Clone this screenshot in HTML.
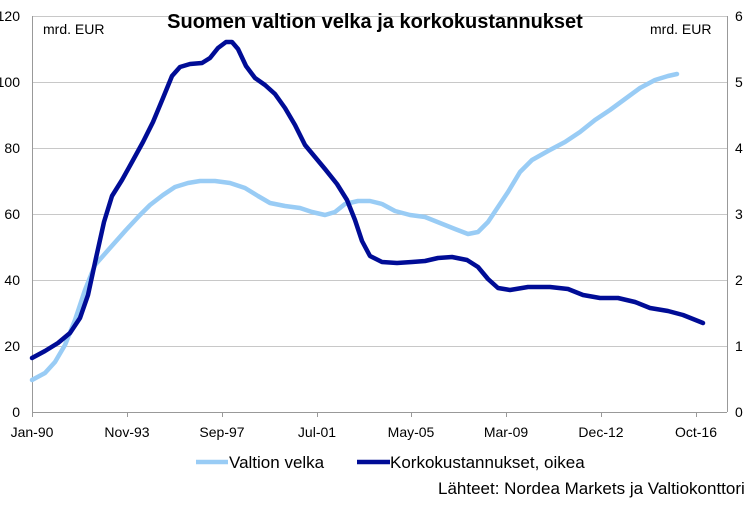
<!DOCTYPE html>
<html><head><meta charset="utf-8"><style>
body{margin:0;background:#fff;}
svg text{font-family:"Liberation Sans",Arial,sans-serif;}
</style></head><body>
<svg width="750" height="500" xmlns="http://www.w3.org/2000/svg">
<rect width="750" height="500" fill="#fff"/>
<g stroke="#c8c8c8" stroke-width="1">
<line x1="32" y1="16.5" x2="727" y2="16.5"/>
<line x1="32" y1="82.5" x2="727" y2="82.5"/>
<line x1="32" y1="148.5" x2="727" y2="148.5"/>
<line x1="32" y1="214.5" x2="727" y2="214.5"/>
<line x1="32" y1="280.5" x2="727" y2="280.5"/>
<line x1="32" y1="346.5" x2="727" y2="346.5"/>
</g>
<g stroke="#999" stroke-width="1">
<line x1="32.5" y1="16" x2="32.5" y2="412"/>
<line x1="727.5" y1="16" x2="727.5" y2="412"/>
<line x1="32" y1="412.5" x2="727" y2="412.5"/>
<line x1="127.5" y1="412" x2="127.5" y2="417"/>
<line x1="222.5" y1="412" x2="222.5" y2="417"/>
<line x1="317.5" y1="412" x2="317.5" y2="417"/>
<line x1="411.5" y1="412" x2="411.5" y2="417"/>
<line x1="506.5" y1="412" x2="506.5" y2="417"/>
<line x1="601.5" y1="412" x2="601.5" y2="417"/>
<line x1="696.5" y1="412" x2="696.5" y2="417"/>
<line x1="32.5" y1="412" x2="32.5" y2="417"/>
</g>
<g font-size="14" fill="#000" text-anchor="end">
<text x="20" y="21">120</text><text x="20" y="87">100</text><text x="20" y="153">80</text>
<text x="20" y="219">60</text><text x="20" y="285">40</text><text x="20" y="351">20</text><text x="20" y="417">0</text>
</g>
<g font-size="14" fill="#000" text-anchor="start">
<text x="735" y="21">6</text><text x="735" y="87">5</text><text x="735" y="153">4</text>
<text x="735" y="219">3</text><text x="735" y="285">2</text><text x="735" y="351">1</text><text x="735" y="417">0</text>
</g>
<g font-size="14" fill="#000" text-anchor="middle">
<text x="32" y="437">Jan-90</text><text x="127" y="437">Nov-93</text><text x="222" y="437">Sep-97</text>
<text x="317" y="437">Jul-01</text><text x="411" y="437">May-05</text><text x="506" y="437">Mar-09</text>
<text x="601" y="437">Dec-12</text><text x="696" y="437">Oct-16</text>
</g>
<text x="43" y="34" font-size="14">mrd. EUR</text>
<text x="650" y="34" font-size="14">mrd. EUR</text>
<text x="375" y="28" font-size="20" font-weight="bold" text-anchor="middle">Suomen valtion velka ja korkokustannukset</text>
<polyline fill="none" stroke="#99ccf5" stroke-width="4.5" stroke-linejoin="round" stroke-linecap="round" points="32,380 45,373 55,362 65,345 75,320 85,290 95,265 110,248 126,230 140,215 150,205 163,195 175,187 188,183 200,181 215,181 230,183 245,188 258,196 270,203 285,206 300,208 312,212 325,215 335,212 345,204 358,201 370,201 382,204 395,211 410,215 425,217 440,223 455,229 468,234 478,232 488,222 498,207 508,192 520,172 532,160 548,151 565,142 580,132 595,120 610,110 625,99 640,88 655,80 668,76 677,74"/>
<polyline fill="none" stroke="#000c96" stroke-width="4.5" stroke-linejoin="round" stroke-linecap="round" points="32,358 45,351 58,343 70,333 80,318 88,295 96,258 104,222 112,196 122,180 132,162 143,142 153,122 163,98 172,76 180,67 190,64 202,63 210,58 218,48 226,42 232,42 238,49 246,66 255,78 265,85 275,94 285,108 295,125 305,145 315,157 325,169 337,184 347,200 355,220 362,241 370,256 382,262 397,263 412,262 425,261 438,258 452,257 467,260 478,267 488,279 498,288 510,290 528,287 550,287 568,289 583,295 600,298 618,298 635,302 650,308 668,311 683,315 703,323"/>
<line x1="196" y1="462" x2="228" y2="462" stroke="#99ccf5" stroke-width="4.5"/>
<text x="229" y="468" font-size="17">Valtion velka</text>
<line x1="357" y1="462" x2="390" y2="462" stroke="#000c96" stroke-width="4.5"/>
<text x="390" y="468" font-size="17">Korkokustannukset, oikea</text>
<text x="438" y="494" font-size="17">Lähteet: Nordea Markets ja Valtiokonttori</text>
</svg>
</body></html>
